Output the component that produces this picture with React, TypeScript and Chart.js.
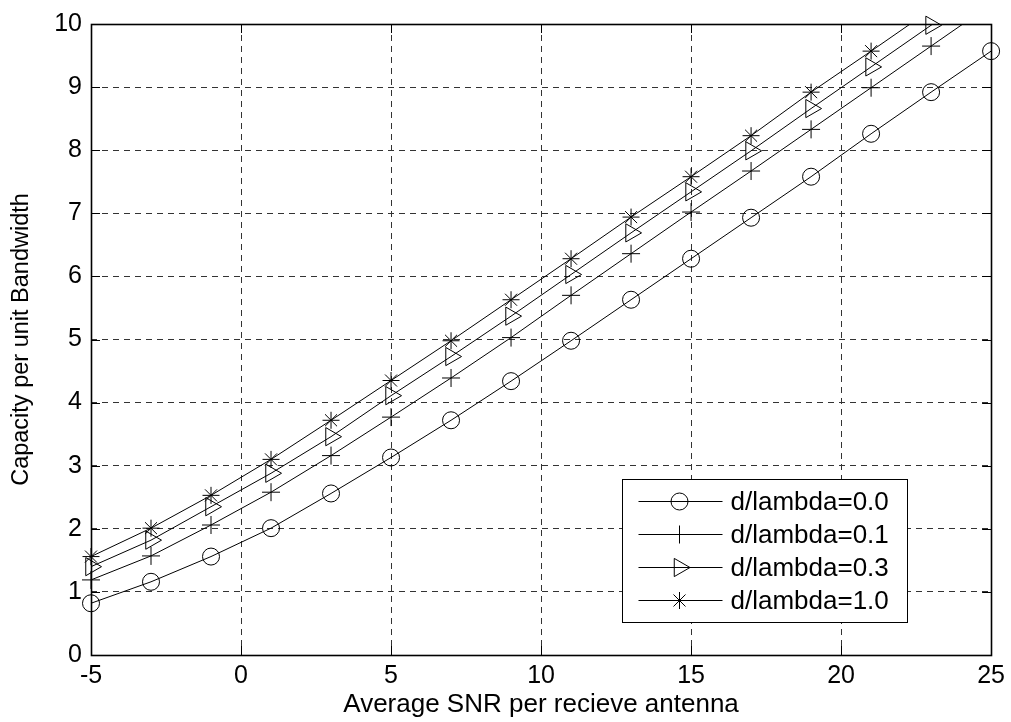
import React, { useEffect, useRef } from 'react';
import { Chart, registerables } from 'chart.js';
import { drawPoint } from 'chart.js/helpers';

Chart.register(...registerables);

// ---- data ----
const snr = [-5, -3, -1, 1, 3, 5, 7, 9, 11, 13, 15, 17, 19, 21, 23, 25];
const capD00 = [0.82, 1.16, 1.56, 2.01, 2.56, 3.13, 3.72, 4.34, 4.98, 5.63, 6.28, 6.93, 7.58, 8.26, 8.92, 9.57];
const capD01 = [1.19, 1.57, 2.06, 2.58, 3.16, 3.77, 4.39, 5.03, 5.7, 6.36, 7.02, 7.67, 8.33, 8.99, 9.65, 10.31];
const capD03 = [1.4, 1.82, 2.35, 2.88, 3.46, 4.11, 4.73, 5.37, 6.03, 6.69, 7.34, 7.99, 8.66, 9.32, 9.98, 10.64];
const capD10 = [1.56, 2.01, 2.53, 3.1, 3.72, 4.35, 4.98, 5.63, 6.28, 6.94, 7.58, 8.23, 8.92, 9.57, 10.23, 10.9];
const seriesLabels = ['d/lambda=0.0', 'd/lambda=0.1', 'd/lambda=0.3', 'd/lambda=1.0'];
const xTitle = 'Average SNR per recieve antenna';
const yTitle = 'Capacity per unit Bandwidth';
const xMin = -5;
const xMax = 25;
const xStep = 5;
const yMin = 0;
const yMax = 10;
const yStep = 1;

const FONT = '"Liberation Sans", Arial, Helvetica, sans-serif';

const markers = [
  { style: 'circle', radius: 8.5, rotation: 0 },
  { style: 'cross', radius: 9, rotation: 0 },
  { style: 'triangle', radius: 10.5, rotation: 90 },
  { style: 'star', radius: 8.5, rotation: 0 },
];

const markerPlugin = {
  id: 'matlabMarkers',
  afterDatasetsDraw(chart: any) {
    const ctx = chart.ctx;
    const area = chart.chartArea;
    chart.data.datasets.forEach((ds: any, i: number) => {
      const meta = chart.getDatasetMeta(i);
      const m = markers[i];
      ctx.save();
      ctx.strokeStyle = '#000';
      ctx.fillStyle = 'rgba(0,0,0,0)';
      ctx.lineWidth = 1;
      meta.data.forEach((pt: any) => {
        if (pt.y < area.top - 0.5 || pt.y > area.bottom + 0.5) return;
        drawPoint(ctx, { pointStyle: m.style, rotation: m.rotation, radius: m.radius, borderWidth: 1 } as any, pt.x, pt.y);
      });
      ctx.restore();
    });
  },
};

const boxPlugin = {
  id: 'matlabBox',
  afterDraw(chart: any) {
    const ctx = chart.ctx;
    const a = chart.chartArea;
    const xs = chart.scales.x;
    const ys = chart.scales.y;
    const tl = 9;
    ctx.save();
    ctx.strokeStyle = '#000';
    ctx.lineWidth = 1;
    ctx.beginPath();
    xs.ticks.forEach((t: any) => {
      const px = Math.round(xs.getPixelForValue(t.value)) + 0.5;
      ctx.moveTo(px, a.bottom);
      ctx.lineTo(px, a.bottom - tl);
      ctx.moveTo(px, a.top);
      ctx.lineTo(px, a.top + tl);
    });
    ys.ticks.forEach((t: any) => {
      const py = Math.round(ys.getPixelForValue(t.value)) + 0.5;
      ctx.moveTo(a.left, py);
      ctx.lineTo(a.left + tl, py);
      ctx.moveTo(a.right, py);
      ctx.lineTo(a.right - tl, py);
    });
    ctx.stroke();
    ctx.lineWidth = 1.6;
    ctx.strokeRect(Math.round(a.left) + 0.5, Math.round(a.top) + 0.5, Math.round(a.right - a.left), Math.round(a.bottom - a.top));

    // legend
    ctx.lineWidth = 1;
    const lw = 285;
    const lh = 143;
    const lx = Math.round(a.right - 84 - lw) + 0.5;
    const ly = Math.round(a.bottom - 33 - lh) + 0.5;
    ctx.fillStyle = '#fff';
    ctx.fillRect(lx, ly, lw, lh);
    ctx.strokeRect(lx, ly, lw, lh);
    ctx.font = `26px ${FONT}`;
    ctx.textBaseline = 'middle';
    ctx.textAlign = 'left';
    chart.data.datasets.forEach((ds: any, i: number) => {
      const cy = Math.round(ly + 21 + i * 33.3) + 0.5;
      const m = markers[i];
      ctx.strokeStyle = '#000';
      ctx.beginPath();
      ctx.moveTo(lx + 16, cy);
      ctx.lineTo(lx + 100, cy);
      ctx.stroke();
      ctx.fillStyle = 'rgba(0,0,0,0)';
      drawPoint(ctx, { pointStyle: m.style, rotation: m.rotation, radius: m.radius, borderWidth: 1 } as any, lx + 57, cy);
      ctx.fillStyle = '#000';
      ctx.fillText(ds.label, lx + 108, cy + 1);
    });
    ctx.restore();
  },
};

export default function App() {
  const ref = useRef<HTMLCanvasElement | null>(null);

  useEffect(() => {
    if (!ref.current) return;
    const series = [capD00, capD01, capD03, capD10];
    const chart = new Chart(ref.current, {
      type: 'line',
      data: {
        datasets: series.map((vals, i) => ({
          label: seriesLabels[i],
          data: snr.map((x, j) => ({ x, y: vals[j] })),
          borderColor: '#000',
          backgroundColor: '#000',
          borderWidth: 1,
          pointRadius: 0,
          pointHoverRadius: 0,
          fill: false,
          tension: 0,
        })),
      },
      options: {
        animation: false,
        responsive: false,
        maintainAspectRatio: false,
        events: [],
        layout: { padding: { top: 22, right: 15, left: 0, bottom: 0 } },
        plugins: { legend: { display: false }, tooltip: { enabled: false } },
        scales: {
          x: {
            type: 'linear',
            min: xMin,
            max: xMax,
            ticks: { stepSize: xStep, color: '#000', font: { family: FONT, size: 25 }, padding: 6, maxRotation: 0 },
            grid: { color: '#333', drawTicks: false, lineWidth: 1 },
            border: { display: false, dash: [6, 5] },
            title: { display: true, text: xTitle, color: '#000', font: { family: FONT, size: 26 }, padding: { top: 0, bottom: 2 } },
            afterFit: (s: any) => { s.height = 67; },
          },
          y: {
            type: 'linear',
            min: yMin,
            max: yMax,
            ticks: { stepSize: yStep, color: '#000', font: { family: FONT, size: 25 }, padding: 9 },
            grid: { color: '#333', drawTicks: false, lineWidth: 1 },
            border: { display: false, dash: [6, 5] },
            title: { display: true, text: yTitle, color: '#000', font: { family: FONT, size: 23.5 }, padding: { top: 7, bottom: 0 } },
            afterFit: (s: any) => { s.width = 91; },
          },
        },
      } as any,
      plugins: [markerPlugin, boxPlugin],
    });
    return () => chart.destroy();
  }, []);

  return (
    <div style={{ position: 'absolute', left: 0, top: 0, width: 1011, height: 722, background: '#fff' }}>
      <canvas ref={ref} width={1011} height={722} style={{ display: 'block' }} />
    </div>
  );
}
